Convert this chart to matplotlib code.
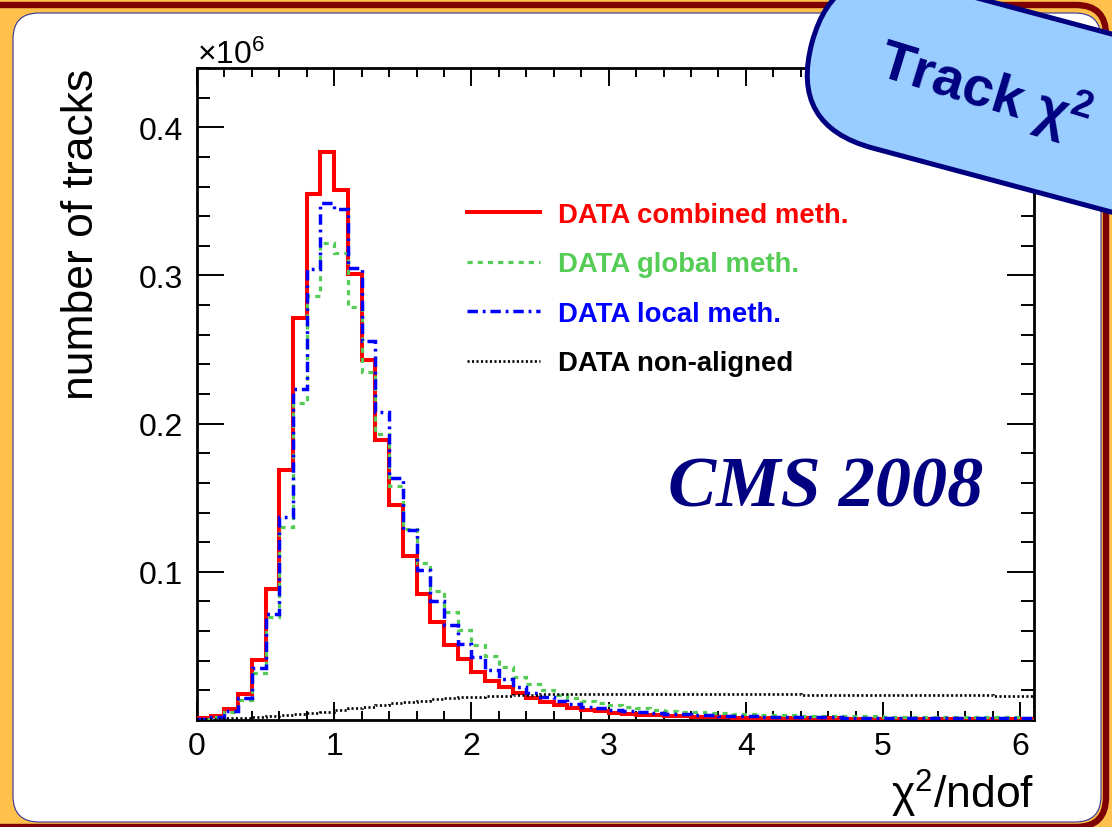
import matplotlib
matplotlib.use('Agg')
import matplotlib.pyplot as plt
import numpy as np
from matplotlib.patches import FancyBboxPatch
from matplotlib.lines import Line2D
from matplotlib.ticker import MultipleLocator, FixedLocator, FixedFormatter
import matplotlib.transforms as mtrans

W, H, DPI = 1112, 828, 100
plt.rcParams['font.family'] = ['Liberation Sans', 'DejaVu Sans']

# ---------------- data (bin contents, bins of 0.1 from 0 to 6.1) ----------------
bin_width = 0.1
n_bins = 61

combined = [0.0012, 0.0030, 0.0074, 0.0176, 0.0405, 0.0885, 0.1690, 0.2716, 0.3550, 0.3835,
            0.3577, 0.3010, 0.2430, 0.1890, 0.1448, 0.1110, 0.0851, 0.0660, 0.0509, 0.0412,
            0.0327, 0.0266, 0.0221, 0.0182, 0.0146, 0.0124, 0.0101, 0.0083, 0.0070, 0.0059,
            0.0050, 0.0043, 0.0036, 0.0032, 0.0027, 0.0025, 0.0023, 0.0020, 0.0018, 0.0016,
            0.0015, 0.0014, 0.0013, 0.0012, 0.0012, 0.0011, 0.0011, 0.0010, 0.0010, 0.0009,
            0.0009, 0.0009, 0.0008, 0.0008, 0.0008, 0.0007, 0.0007, 0.0007, 0.0006, 0.0006,
            0.0006]

global_m = [0.0006, 0.0018, 0.0055, 0.0135, 0.0318, 0.0696, 0.1300, 0.2140, 0.2860, 0.3220,
            0.3150, 0.2790, 0.2350, 0.1930, 0.1580, 0.1290, 0.1060, 0.0870, 0.0730, 0.0604,
            0.0507, 0.0430, 0.0357, 0.0293, 0.0240, 0.0205, 0.0172, 0.0148, 0.0130, 0.0113,
            0.0099, 0.0088, 0.0078, 0.0070, 0.0063, 0.0057, 0.0052, 0.0048, 0.0044, 0.0041,
            0.0038, 0.0036, 0.0034, 0.0032, 0.0030, 0.0029, 0.0027, 0.0026, 0.0025, 0.0024,
            0.0023, 0.0022, 0.0021, 0.0020, 0.0020, 0.0019, 0.0018, 0.0018, 0.0017, 0.0017,
            0.0016]

local_m = [0.0008, 0.0020, 0.0063, 0.0149, 0.0351, 0.0716, 0.1370, 0.2232, 0.3043, 0.3490,
           0.3450, 0.3050, 0.2560, 0.2080, 0.1635, 0.1280, 0.1009, 0.0806, 0.0642, 0.0514,
           0.0426, 0.0340, 0.0275, 0.0222, 0.0182, 0.0152, 0.0127, 0.0107, 0.0091, 0.0078,
           0.0068, 0.0060, 0.0053, 0.0047, 0.0042, 0.0038, 0.0034, 0.0031, 0.0028, 0.0026,
           0.0024, 0.0023, 0.0021, 0.0020, 0.0019, 0.0018, 0.0017, 0.0016, 0.0016, 0.0015,
           0.0015, 0.0014, 0.0014, 0.0013, 0.0013, 0.0013, 0.0012, 0.0012, 0.0012, 0.0011,
           0.0011]

non_aligned = [0.0005, 0.0008, 0.0012, 0.0016, 0.0020, 0.0025, 0.0031, 0.0038, 0.0046, 0.0055,
               0.0066, 0.0078, 0.0090, 0.0101, 0.0112, 0.0122, 0.0131, 0.0139, 0.0146, 0.0152,
               0.0157, 0.0161, 0.0165, 0.0168, 0.0171, 0.0173, 0.0175, 0.0176, 0.0177, 0.0178,
               0.0178, 0.0178, 0.0178, 0.0178, 0.0177, 0.0177, 0.0176, 0.0176, 0.0175, 0.0175,
               0.0174, 0.0174, 0.0173, 0.0173, 0.0172, 0.0172, 0.0171, 0.0171, 0.0170, 0.0170,
               0.0169, 0.0169, 0.0168, 0.0168, 0.0167, 0.0167, 0.0166, 0.0166, 0.0165, 0.0165,
               0.0164]

labels = ['DATA combined meth.', 'DATA global meth.', 'DATA local meth.', 'DATA non-aligned']
x_ticks = [0, 1, 2, 3, 4, 5, 6]
x_ticklabels = ['0', '1', '2', '3', '4', '5', '6']
y_ticks = [0.1, 0.2, 0.3, 0.4]
y_ticklabels = ['0.1', '0.2', '0.3', '0.4']

edges = np.arange(n_bins + 1) * bin_width

# ---------------- styles ----------------
RED, GREEN, BLUE, BLACK = '#ff0000', '#55cc55', '#0000ff', '#000000'
NAVY = '#000080'
styles = [
    dict(color=RED, lw=2.9, ls='-'),
    dict(color=GREEN, lw=2.3, ls=(0, (1.6, 1.6))),
    dict(color=BLUE, lw=2.5, ls=(0, (3.0, 1.4, 0.8, 1.4))),
    dict(color=BLACK, lw=1.9, ls=(0, (0.8, 0.9))),
]

fig = plt.figure(figsize=(W / DPI, H / DPI), dpi=DPI)
fig.patch.set_facecolor('#ffc04c')
px = mtrans.Affine2D().scale(1.0 / DPI) + fig.dpi_scale_trans

# dark red frame line
frame = FancyBboxPatch((-40, 0), 1106 + 40, 822, boxstyle='round,pad=0,rounding_size=30',
                       transform=px, facecolor='none', edgecolor='#7f0000', lw=4.6, zorder=-3)
fig.add_artist(frame)
# white rounded panel
panel = FancyBboxPatch((13, 5), 1101 - 13, 814 - 5, boxstyle='round,pad=0,rounding_size=26',
                       transform=px, facecolor='white', edgecolor='#33339a', lw=0.8, zorder=-2)
fig.add_artist(panel)

ax = fig.add_axes([197 / W, 107 / H, 837 / W, 652 / H])
ax.patch.set_alpha(0)

series = [combined, global_m, local_m, non_aligned]
for vals, st in zip(series, styles):
    ax.stairs(vals, edges, baseline=0, fill=False, color=st['color'], lw=st['lw'],
              linestyle=st['ls'], zorder=3)

ax.set_xlim(0, 6.1)
ax.set_ylim(0, 0.44)
ax.xaxis.set_major_locator(FixedLocator(x_ticks))
ax.xaxis.set_major_formatter(FixedFormatter(x_ticklabels))
ax.xaxis.set_minor_locator(MultipleLocator(0.2))
ax.yaxis.set_major_locator(FixedLocator(y_ticks))
ax.yaxis.set_major_formatter(FixedFormatter(y_ticklabels))
ax.yaxis.set_minor_locator(MultipleLocator(0.02))
ax.tick_params(axis='both', which='both', direction='in', top=True, right=True, width=1.4)
ax.tick_params(axis='x', which='major', length=13, pad=8, labelsize=23)
ax.tick_params(axis='x', which='minor', length=6.5)
ax.tick_params(axis='y', which='major', length=19.5, pad=10, labelsize=23)
ax.tick_params(axis='y', which='minor', length=9.5)
for sp in ax.spines.values():
    sp.set_linewidth(2.0)

ax.set_ylabel('number of tracks', fontsize=32, loc='top')
ax.yaxis.set_label_coords(-0.114, 1.0)
ax.set_xlabel(r'$\mathregular{χ^{2}}$/ndof', fontsize=32, loc='right')
ax.xaxis.set_label_coords(1.0, -0.072)

ax.text(0.0, 0.997, r'$\mathregular{\times10^{6}}$', transform=ax.transAxes,
        ha='left', va='bottom', fontsize=23)

handles = [Line2D([], [], color=st['color'], lw=st['lw'], ls=st['ls']) for st in styles]
leg = ax.legend(handles, labels, loc='upper left', bbox_to_anchor=(467 / W, 625 / H),
                bbox_transform=fig.transFigure, frameon=False,
                prop={'weight': 'bold', 'size': 19.8}, labelcolor='linecolor',
                handlelength=2.65, handletextpad=0.65, labelspacing=0.85,
                borderpad=0, borderaxespad=0)

fig.text(668 / W, (H - 507) / H, 'CMS 2008', fontsize=52, family='Liberation Serif',
         weight='bold', style='italic', color=NAVY, ha='left', va='baseline')

# badge "Track chi2"
cx, cy, r, L, ang = 895, H - 66, 86, 420, -15
badge = FancyBboxPatch((cx - r, cy - r), 2 * r + L, 2 * r,
                       boxstyle='round,pad=0,rounding_size=%d' % r,
                       transform=mtrans.Affine2D().rotate_deg_around(cx, cy, ang) + px,
                       facecolor='#99ccff', edgecolor=NAVY, lw=3.6, zorder=10)
fig.add_artist(badge)
fig.text(985 / W, (H - 90) / H, r'Track $\mathregular{χ^{2}}$', fontsize=40, weight='bold',
         color=NAVY, rotation=-17, rotation_mode='anchor', ha='center', va='center', zorder=11)

fig.savefig('out.png', dpi=DPI, facecolor=fig.get_facecolor())
